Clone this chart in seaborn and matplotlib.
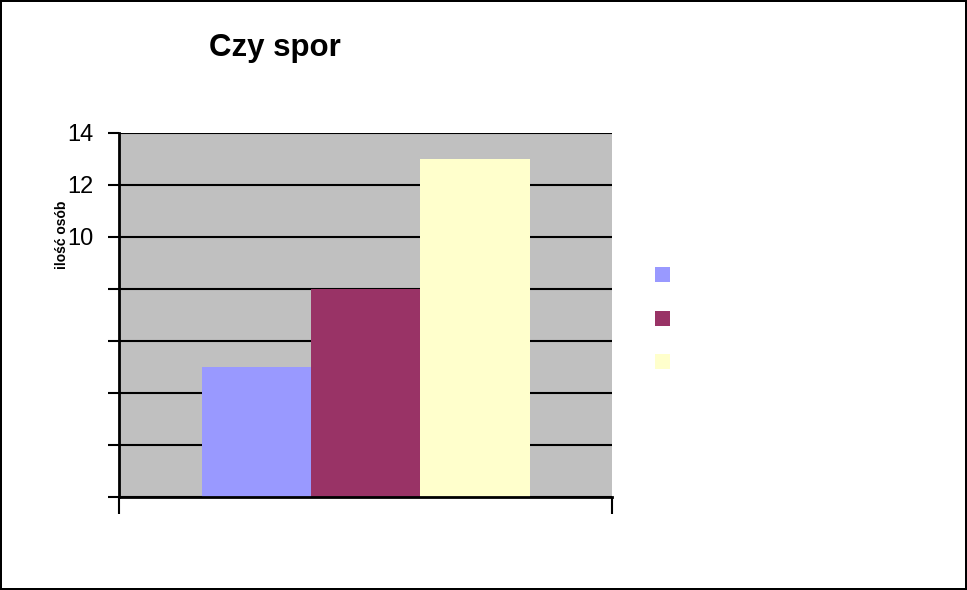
import matplotlib
matplotlib.use("Agg")
import matplotlib.pyplot as plt
from matplotlib.patches import Patch
import pandas as pd
import seaborn as sns

# Chart data
categories = ["tak", "nie", "czasami"]
values = [5, 8, 13]
colors = ["#9999FF", "#993366", "#FFFFCC"]
y_ticks = [0, 2, 4, 6, 8, 10, 12, 14]
y_tick_labels = ["", "", "", "", "", "10", "12", "14"]
title = "Czy spor"
y_label = "ilość osób"

sns.set_style("white")
plt.rcParams["font.family"] = ["Liberation Sans", "DejaVu Sans"]
plt.rcParams["text.color"] = "black"
plt.rcParams["ytick.color"] = "black"
plt.rcParams["xtick.color"] = "black"

df = pd.DataFrame({"grupa": ["" for _ in categories], "odpowiedz": categories, "liczba": values})

fig = plt.figure(figsize=(9.67, 5.90), dpi=100, linewidth=1.5, edgecolor="black")
ax = fig.add_axes([0.123, 0.158, 0.510, 0.617])
ax.set_facecolor("#C0C0C0")

sns.barplot(data=df, x="grupa", y="liczba", hue="odpowiedz", palette=colors,
            width=0.665, saturation=1, dodge=True, legend=False, ax=ax,
            edgecolor="none", zorder=3)

ax.set_xlim(-0.5, 0.5)
ax.set_ylim(0, 14)
ax.set_yticks(y_ticks)
ax.set_yticklabels(y_tick_labels, fontsize=17)
ax.set_xticks([-0.5, 0.5])
ax.set_xticklabels(["", ""])
ax.tick_params(axis="y", direction="out", length=8, width=1.5, color="black", left=True, pad=10)
ax.tick_params(axis="x", direction="out", length=12, width=1.5, color="black", bottom=True)

ax.yaxis.grid(True, color="black", linewidth=1.5, zorder=1)
ax.set_axisbelow(True)
for s in ["top", "right"]:
    ax.spines[s].set_visible(False)
for s in ["left", "bottom"]:
    ax.spines[s].set_color("black")
    ax.spines[s].set_linewidth(2)
    ax.spines[s].set_zorder(4)

ax.set_xlabel("")
ax.set_ylabel("")
fig.text(0.064, 0.602, y_label, rotation=90, fontsize=10, fontweight="bold", ha="center", va="center")
fig.text(0.216, 0.918, title, fontsize=22.5, fontweight="bold", ha="left", va="center")

handles = [Patch(facecolor=c, edgecolor="none") for c in colors]
fig.legend(handles, [" ", " ", " "], loc="upper left", bbox_to_anchor=(0.668, 0.565),
           frameon=False, handlelength=0.6, handleheight=0.6, labelspacing=0.9,
           fontsize=17, borderaxespad=0, handletextpad=0.4)

fig.savefig("out.png", dpi=100, edgecolor=fig.get_edgecolor())
